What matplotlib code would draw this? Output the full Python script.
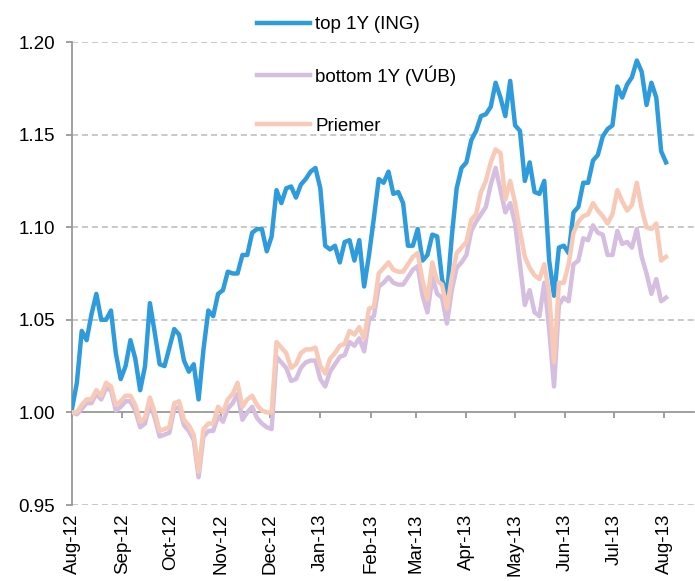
import matplotlib
matplotlib.use("Agg")
import matplotlib.pyplot as plt
import matplotlib.dates as mdates
import pandas as pd

plt.rcParams['font.family'] = ['Liberation Sans', 'DejaVu Sans']

# sampled every 3 days, Aug-12 .. Aug-13
dates = pd.date_range('2012-08-01', periods=123, freq='3D')

top_ing = [
    1.002, 1.016, 1.044, 1.039, 1.053, 1.064, 1.050, 1.050, 1.055, 1.032,
    1.018, 1.025, 1.039, 1.029, 1.012, 1.025, 1.059, 1.043, 1.026, 1.025,
    1.035, 1.045, 1.042, 1.028, 1.022, 1.026, 1.007, 1.034, 1.055, 1.052,
    1.064, 1.066, 1.076, 1.075, 1.075, 1.085, 1.085, 1.097, 1.099, 1.099,
    1.087, 1.095, 1.120, 1.113, 1.121, 1.122, 1.116, 1.123, 1.126, 1.130,
    1.132, 1.121, 1.090, 1.088, 1.090, 1.081, 1.092, 1.093, 1.082, 1.093,
    1.068, 1.085, 1.105, 1.126, 1.124, 1.130, 1.118, 1.119, 1.113, 1.090,
    1.090, 1.099, 1.082, 1.085, 1.096, 1.095, 1.072, 1.063, 1.095, 1.121,
    1.132, 1.135, 1.147, 1.152, 1.160, 1.161, 1.165, 1.178, 1.170, 1.160,
    1.179, 1.155, 1.152, 1.125, 1.135, 1.119, 1.118, 1.125, 1.082, 1.063,
    1.089, 1.090, 1.086, 1.108, 1.111, 1.124, 1.124, 1.136, 1.139, 1.149,
    1.153, 1.155, 1.176, 1.170, 1.177, 1.181, 1.190, 1.184, 1.166, 1.178,
    1.170, 1.141, 1.135,
]

bottom_vub = [
    1.000, 0.999, 1.002, 1.005, 1.005, 1.010, 1.007, 1.013, 1.012, 1.001,
    1.003, 1.006, 1.006, 1.001, 0.992, 0.994, 1.005, 0.997, 0.987, 0.988,
    0.989, 1.002, 1.003, 0.993, 0.990, 0.985, 0.965, 0.987, 0.990, 0.990,
    0.998, 0.995, 1.002, 1.005, 1.010, 0.996, 1.000, 1.003, 0.997, 0.994,
    0.992, 0.991, 1.030, 1.027, 1.024, 1.017, 1.018, 1.024, 1.027, 1.028,
    1.028, 1.018, 1.014, 1.022, 1.026, 1.030, 1.031, 1.038, 1.036, 1.040,
    1.033, 1.050, 1.052, 1.068, 1.070, 1.073, 1.070, 1.069, 1.069, 1.073,
    1.077, 1.079, 1.063, 1.054, 1.073, 1.064, 1.062, 1.048, 1.066, 1.078,
    1.081, 1.085, 1.098, 1.103, 1.107, 1.111, 1.123, 1.132, 1.120, 1.108,
    1.113, 1.102, 1.080, 1.058, 1.066, 1.054, 1.052, 1.070, 1.045, 1.014,
    1.058, 1.062, 1.060, 1.080, 1.082, 1.094, 1.093, 1.101, 1.097, 1.096,
    1.085, 1.085, 1.098, 1.091, 1.092, 1.089, 1.099, 1.084, 1.075, 1.064,
    1.072, 1.060, 1.062,
]

priemer = [
    1.000, 1.000, 1.004, 1.007, 1.007, 1.012, 1.009, 1.016, 1.014, 1.004,
    1.006, 1.009, 1.009, 1.004, 0.995, 0.997, 1.008, 1.000, 0.990, 0.991,
    0.992, 1.005, 1.006, 0.996, 0.993, 0.988, 0.968, 0.991, 0.994, 0.994,
    1.003, 1.000, 1.007, 1.010, 1.016, 1.003, 1.007, 1.009, 1.004, 1.001,
    1.000, 1.000, 1.038, 1.035, 1.032, 1.024, 1.026, 1.032, 1.034, 1.034,
    1.035, 1.025, 1.021, 1.029, 1.032, 1.036, 1.037, 1.044, 1.042, 1.046,
    1.040, 1.056, 1.057, 1.075, 1.078, 1.081, 1.077, 1.076, 1.076, 1.080,
    1.084, 1.086, 1.071, 1.061, 1.081, 1.071, 1.069, 1.056, 1.073, 1.086,
    1.089, 1.092, 1.104, 1.107, 1.119, 1.125, 1.135, 1.142, 1.140, 1.115,
    1.125, 1.113, 1.098, 1.084, 1.078, 1.074, 1.072, 1.080, 1.064, 1.027,
    1.070, 1.070, 1.080, 1.097, 1.103, 1.106, 1.107, 1.113, 1.109, 1.106,
    1.102, 1.107, 1.120, 1.114, 1.109, 1.112, 1.124, 1.110, 1.100, 1.099,
    1.102, 1.082, 1.084,
]

labels = ['top 1Y (ING)', 'bottom 1Y (VÚB)', 'Priemer']

fig = plt.figure(figsize=(6.95, 5.81), dpi=100)
ax = fig.add_axes([0.1036, 0.1308, 0.8944, 0.7969])

ax.plot(dates, top_ing, color='#2E9BDC', lw=3.2, label=labels[0], zorder=3)
ax.plot(dates, bottom_vub, color='#D5BEDF', lw=3.2, label=labels[1], zorder=4)
ax.plot(dates, priemer, color='#F8C9B6', lw=3.2, label=labels[2], zorder=5)

ax.set_ylim(0.95, 1.20)
ax.set_xlim(pd.Timestamp('2012-08-01'), pd.Timestamp('2013-08-19'))
ax.set_yticks([0.95, 1.00, 1.05, 1.10, 1.15, 1.20])
ax.yaxis.set_major_formatter(matplotlib.ticker.FormatStrFormatter('%.2f'))
for yv in [0.95, 1.05, 1.10, 1.15, 1.20]:
    ax.axhline(yv, color='#BBBBBB', lw=1.1, ls=(0, (4, 2.5)), zorder=1)

ax.xaxis.set_major_locator(mdates.MonthLocator())
ax.xaxis.set_major_formatter(mdates.DateFormatter('%b-%y'))

for s in ['top', 'right']:
    ax.spines[s].set_visible(False)
ax.spines['left'].set_color('#999999')
ax.spines['left'].set_linewidth(1.3)
ax.spines['bottom'].set_position(('data', 1.0))
ax.spines['bottom'].set_color('#999999')
ax.spines['bottom'].set_linewidth(1.3)

ax.tick_params(axis='y', colors='#999999', length=4, width=1.3, pad=8,
               labelsize=13.5, labelcolor='black')
ax.tick_params(axis='x', colors='#999999', length=4, width=1.3, pad=69,
               labelsize=13.5, labelcolor='black', labelrotation=90)

ax.legend(loc='upper left', bbox_to_anchor=(0.286, 1.072), frameon=False,
          fontsize=13.5, handlelength=2.8, handletextpad=0.3, labelspacing=1.7,
          borderaxespad=0)

fig.savefig('out.png', dpi=100)
